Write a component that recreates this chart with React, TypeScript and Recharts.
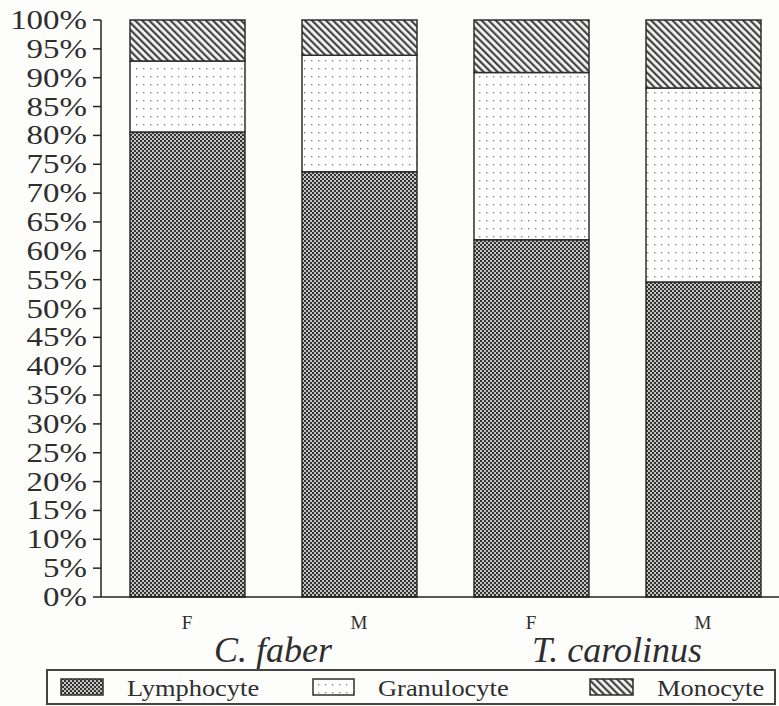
import { BarChart, Bar, XAxis, YAxis } from "recharts";

// ---------------------------------------------------------------------------
// Data
// ---------------------------------------------------------------------------

const sexes = ["F", "M", "F", "M"];
const species = ["C. faber", "C. faber", "T. carolinus", "T. carolinus"];
const lymphocyte = [80.6, 73.7, 61.9, 54.6];
const granulocyte = [12.3, 20.2, 29.0, 33.6];
const monocyte = [7.1, 6.1, 9.1, 11.8];
const yTicks = [0, 5, 10, 15, 20, 25, 30, 35, 40, 45, 50, 55, 60, 65, 70, 75, 80, 85, 90, 95, 100];

const data = sexes.map((s, i) => ({
  key: `${species[i]}-${s}`,
  sex: s,
  group: species[i],
  lymphocyte: lymphocyte[i],
  granulocyte: granulocyte[i],
  monocyte: monocyte[i],
}));

// ---------------------------------------------------------------------------
// Layout constants
// ---------------------------------------------------------------------------

const CHART_W = 789;
const CHART_H = 706;
const Y_AXIS_W = 101;
const PLOT_W = CHART_W - Y_AXIS_W;
const HALF_BAND = PLOT_W / data.length / 2;
const FONT = "Liberation Serif, Times New Roman, Times, serif";
const INK = "#2e2e2e";

// ---------------------------------------------------------------------------
// Patterns
// ---------------------------------------------------------------------------

function Patterns({ prefix }: { prefix: string }) {
  return (
    <defs>
      <pattern id={`${prefix}-lym`} width={4} height={4} patternUnits="userSpaceOnUse">
        <rect width={4} height={4} fill="#c4c4c4" />
        <rect width={2} height={2} fill="#333333" />
        <rect x={2} y={2} width={2} height={2} fill="#333333" />
      </pattern>
      <pattern id={`${prefix}-gra`} width={7} height={8} patternUnits="userSpaceOnUse">
        <rect width={7} height={8} fill="#ffffff" />
        <rect x={3} y={4} width={1.4} height={1.4} fill="#8a8a8a" />
      </pattern>
      <pattern
        id={`${prefix}-mon`}
        width={5}
        height={5}
        patternUnits="userSpaceOnUse"
        patternTransform="rotate(-45)"
      >
        <rect width={5} height={5} fill="#f4f4f4" />
        <rect width={2.2} height={5} fill="#444444" />
      </pattern>
    </defs>
  );
}

// ---------------------------------------------------------------------------
// Ticks
// ---------------------------------------------------------------------------

function YTick({ x, y, payload }: any) {
  return (
    <g transform={`translate(${x - 4},${y + 9})`}>
      <text
        transform="scale(1.22,1)"
        textAnchor="end"
        style={{ fontFamily: FONT }}
        fontSize={27}
        fill={INK}
      >
        {payload.value}%
      </text>
    </g>
  );
}

function XTick({ x, y, payload, index }: any) {
  return (
    <g>
      <text
        x={x}
        y={y + 24}
        textAnchor="middle"
        style={{ fontFamily: FONT }}
        fontSize={19}
        fill={INK}
      >
        {payload.value}
      </text>
      {index % 2 === 1 && (
        <text
          x={x - HALF_BAND}
          y={y + 57}
          textAnchor="middle"
          style={{ fontFamily: FONT, fontStyle: "italic" }}
          fontSize={36}
          fill={INK}
        >
          {data[index].group}
        </text>
      )}
    </g>
  );
}

// ---------------------------------------------------------------------------
// Legend
// ---------------------------------------------------------------------------

const legendItems = [
  { name: "Lymphocyte", fill: "lg-lym", sx: 61, sw: 42, tx: 127 },
  { name: "Granulocyte", fill: "lg-gra", sx: 313, sw: 41, tx: 378 },
  { name: "Monocyte", fill: "lg-mon", sx: 590, sw: 43, tx: 657 },
];

function LegendBox() {
  return (
    <svg
      width={779}
      height={706}
      style={{ position: "absolute", left: 0, top: 0, pointerEvents: "none" }}
    >
      <Patterns prefix="lg" />
      <rect x={47} y={670} width={728} height={34} fill="none" stroke="#444" strokeWidth={2} />
      {legendItems.map((it) => (
        <g key={it.name}>
          <rect
            x={it.sx}
            y={679}
            width={it.sw}
            height={16}
            fill={`url(#${it.fill})`}
            stroke={INK}
            strokeWidth={1.5}
          />
          <g transform={`translate(${it.tx},696)`}>
            <text transform="scale(1.15,1)" style={{ fontFamily: FONT }} fontSize={23} fill={INK}>
              {it.name}
            </text>
          </g>
        </g>
      ))}
    </svg>
  );
}

// ---------------------------------------------------------------------------
// Component
// ---------------------------------------------------------------------------

export default function App() {
  return (
    <div
      style={{
        position: "absolute",
        left: 0,
        top: 0,
        width: 779,
        height: 706,
        overflow: "hidden",
        background: "#fdfdfb",
      }}
    >
      <BarChart
        width={CHART_W}
        height={CHART_H}
        data={data}
        margin={{ top: 20, right: 0, left: 0, bottom: 0 }}
        barSize={115}
      >
        <Patterns prefix="ch" />
        <XAxis
          dataKey="sex"
          height={109}
          axisLine={{ stroke: "#222", strokeWidth: 1.5 }}
          tickLine={false}
          tick={<XTick />}
          interval={0}
        />
        <YAxis
          width={Y_AXIS_W}
          domain={[0, 100]}
          ticks={yTicks}
          interval={0}
          tickSize={8}
          axisLine={{ stroke: "#222", strokeWidth: 1.5 }}
          tickLine={{ stroke: "#222", strokeWidth: 1.5 }}
          tick={<YTick />}
        />
        <Bar
          dataKey="lymphocyte"
          stackId="a"
          fill="url(#ch-lym)"
          stroke={INK}
          strokeWidth={1.5}
          isAnimationActive={false}
        />
        <Bar
          dataKey="granulocyte"
          stackId="a"
          fill="url(#ch-gra)"
          stroke={INK}
          strokeWidth={1.5}
          isAnimationActive={false}
        />
        <Bar
          dataKey="monocyte"
          stackId="a"
          fill="url(#ch-mon)"
          stroke={INK}
          strokeWidth={1.5}
          isAnimationActive={false}
        />
      </BarChart>
      <LegendBox />
    </div>
  );
}
